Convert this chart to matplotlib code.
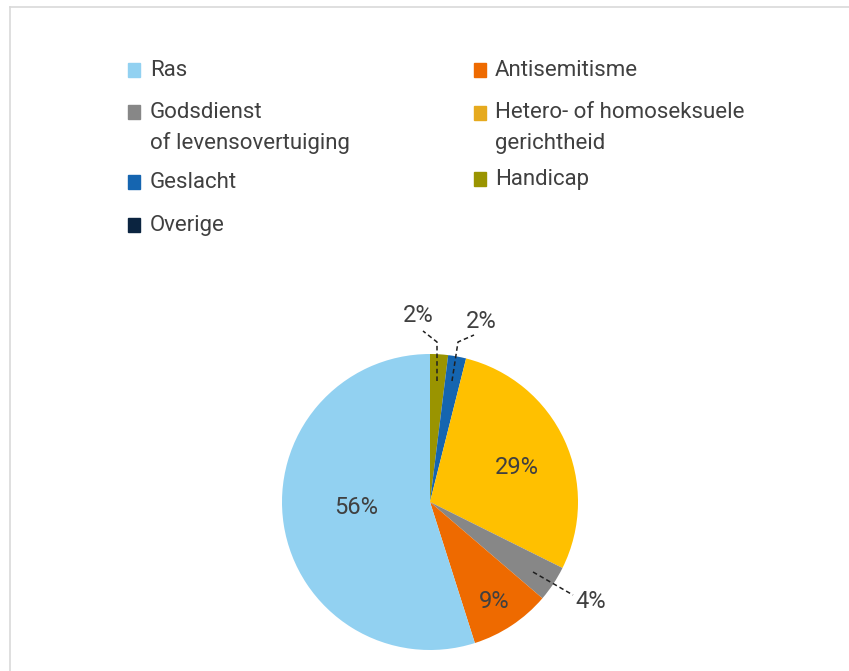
import matplotlib
matplotlib.use("Agg")
import matplotlib.pyplot as plt
from matplotlib.patches import Rectangle
from matplotlib.lines import Line2D

# Data (clockwise from 12 o'clock), values in % as labelled
pie_categories = ["Handicap", "Geslacht", "Hetero- of homoseksuele gerichtheid",
                  "Godsdienst of levensovertuiging", "Antisemitisme", "Ras"]
pie_values = [2, 2, 29, 4, 9, 56]
pie_colors = ["#9A9400", "#1565B0", "#FFC000", "#878787", "#EE6A00", "#92D1F1"]

legend_left = ["Ras", "Godsdienst\nof levensovertuiging", "Geslacht", "Overige"]
legend_left_colors = ["#92D1F1", "#878787", "#1565B0", "#0B2440"]
legend_right = ["Antisemitisme", "Hetero- of homoseksuele\ngerichtheid", "Handicap"]
legend_right_colors = ["#EE6A00", "#E6AA1E", "#9A9400"]

W, H = 849, 671
fig = plt.figure(figsize=(W / 100, H / 100), dpi=100)
fig.patch.set_facecolor("white")
plt.rcParams["font.family"] = ["Roboto", "DejaVu Sans"]
TXT = "#404040"

def fx(x):
    return x / W

def fy(y):
    return 1 - y / H

# frame lines
fig.add_artist(Line2D([fx(10), fx(10)], [fy(7), 0], color="#D9D9D9", lw=1.2))
fig.add_artist(Line2D([fx(10), 1], [fy(7), fy(7)], color="#D9D9D9", lw=1.2))

# pie axes
cx, cy, r = 430, 502, 148
ax = fig.add_axes([fx(cx - r), fy(cy + r), 2 * r / W, 2 * r / H])
wedges, _ = ax.pie(pie_values, colors=pie_colors, startangle=90, counterclock=False,
                   radius=1, wedgeprops=dict(linewidth=0))
ax.set_xlim(-1, 1)
ax.set_ylim(-1, 1)
ax.set_aspect("equal")
ax.axis("off")

def px2data(x, y):
    return ((x - cx) / r, (cy - y) / r)

labels = ["%d%%" % v for v in pie_values]
# label positions in pixels
label_pos = [(418, 316), (481, 322), (517, 467), (591, 601), (494, 602), (356, 508)]
for lab, (x, y) in zip(labels, label_pos):
    dx, dy = px2data(x, y)
    ax.text(dx, dy, lab, ha="center", va="center", fontsize=17, color=TXT,
            clip_on=False)

leaders = [
    [(437, 381), (437, 342), (423, 331)],
    [(452, 381), (458, 342), (474, 335)],
    [(533, 572), (573, 595)],
]
for pts in leaders:
    xs, ys = zip(*[px2data(x, y) for x, y in pts])
    ax.plot(xs, ys, color="#202020", lw=1.1, ls=(0, (3, 2)), clip_on=False)

# legend
def legend_item(x_sw, x_txt, y, text, color):
    fig.add_artist(Rectangle((fx(x_sw), fy(y + 7)), 12 / W, 14 / H,
                             color=color, transform=fig.transFigure))
    lines = text.split("\n")
    for i, ln in enumerate(lines):
        fig.text(fx(x_txt), fy(y + i * 31), ln, ha="left", va="center",
                 fontsize=16, color=TXT)

left_y = [70, 112, 182, 225]
for t, c, y in zip(legend_left, legend_left_colors, left_y):
    legend_item(128, 150, y, t, c)
right_y = [70, 113, 179]
for t, c, y in zip(legend_right, legend_right_colors, right_y):
    legend_item(474, 495, y, t, c)

fig.savefig("out.png", dpi=100, facecolor="white")
